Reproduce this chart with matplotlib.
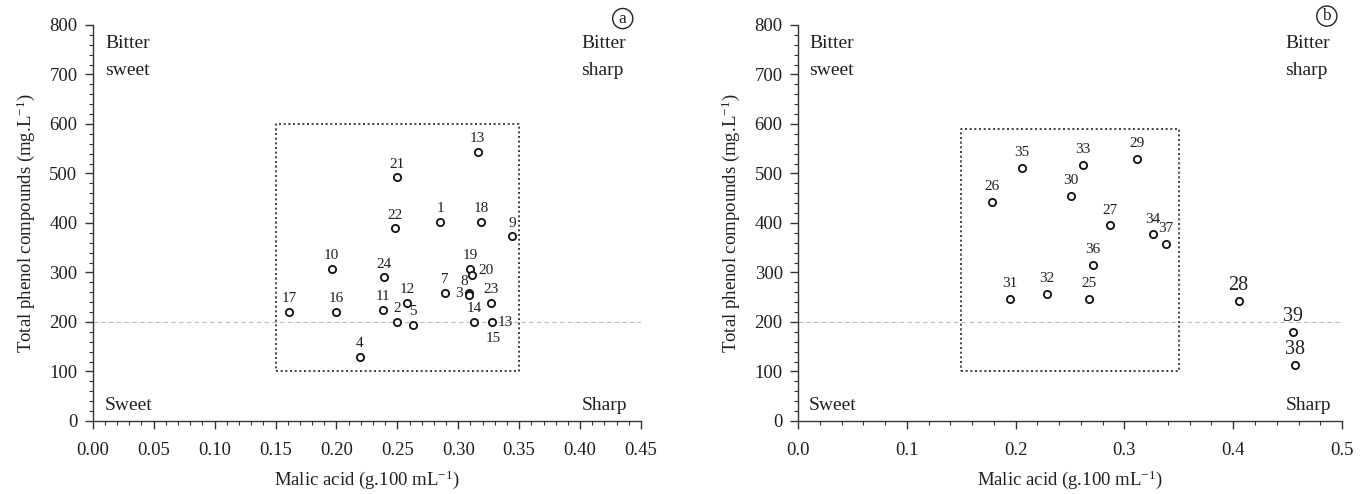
import numpy as np
import matplotlib
matplotlib.use('Agg')
import matplotlib.pyplot as plt
from matplotlib.ticker import MultipleLocator, FormatStrFormatter

# panel (a)
labels_a = ['13', '21', '22', '1', '18', '9', '10', '24', '19', '20', '7', '8', '3',
            '23', '12', '17', '16', '11', '2', '5', '14', '13', '4']
malic_a = [0.316, 0.250, 0.248, 0.285, 0.319, 0.344, 0.196, 0.239, 0.310, 0.311,
           0.289, 0.309, 0.309, 0.327, 0.258, 0.161, 0.200, 0.238, 0.250, 0.263,
           0.313, 0.328, 0.219]
phenol_a = [544, 492, 389, 403, 403, 373, 307, 290, 307, 294, 259, 258, 254,
            238, 238, 221, 221, 225, 200, 194, 200, 200, 129]
box_a = (0.15, 0.35, 100, 600)

# panel (b)
labels_b = ['35', '33', '29', '26', '30', '27', '34', '37', '36', '31', '32', '25',
            '28', '39', '38']
malic_b = [0.206, 0.262, 0.312, 0.178, 0.251, 0.287, 0.326, 0.338, 0.271,
           0.195, 0.229, 0.267, 0.405, 0.455, 0.457]
phenol_b = [512, 517, 529, 443, 454, 395, 377, 358, 315, 247, 256, 247,
            242, 180, 114]
big_b = ['28', '39', '38']
box_b = (0.15, 0.35, 100, 590)

threshold = 200

FONT = 'Liberation Serif'
TXT = '#231f20'
plt.rcParams.update({
    'font.family': FONT,
    'mathtext.fontset': 'custom',
    'mathtext.rm': FONT,
    'mathtext.it': FONT + ':italic',
    'font.size': 13.5,
    'text.color': TXT,
    'axes.labelcolor': TXT,
    'xtick.color': '#333333',
    'ytick.color': '#333333',
    'xtick.labelcolor': TXT,
    'ytick.labelcolor': TXT,
})

fig = plt.figure(figsize=(13.7, 4.94), dpi=100)
ax_a = fig.add_axes([0.0677, 0.1478, 0.4002, 0.8016])
ax_b = fig.add_axes([0.5825, 0.1478, 0.3971, 0.8016])


def style_axes(ax, xmax, xmajor, xminor, fmt):
    ax.set_xlim(0, xmax)
    ax.set_ylim(0, 800)
    for s in ['top', 'right']:
        ax.spines[s].set_visible(False)
    for s in ['left', 'bottom']:
        ax.spines[s].set_color('#333333')
        ax.spines[s].set_linewidth(1.0)
    ax.xaxis.set_major_locator(MultipleLocator(xmajor))
    ax.xaxis.set_minor_locator(MultipleLocator(xminor))
    ax.xaxis.set_major_formatter(FormatStrFormatter(fmt))
    ax.yaxis.set_major_locator(MultipleLocator(100))
    ax.yaxis.set_minor_locator(MultipleLocator(20))
    ax.tick_params(which='major', length=6, width=1.0, labelsize=13.5)
    ax.tick_params(axis='x', which='major', pad=9)
    ax.tick_params(axis='y', which='major', pad=5)
    ax.tick_params(which='minor', length=3, width=0.8)
    ax.set_xlabel('Malic acid (g.100 mL$^{-1}$)', fontsize=13.5, labelpad=7)
    ax.set_ylabel('Total phenol compounds (mg.L$^{-1}$)', fontsize=13.5, labelpad=9)
    ax.axhline(threshold, color='#bbbbbb', lw=0.8, ls=(0, (4, 3)), zorder=1)


def draw_box(ax, box):
    x0, x1, y0, y1 = box
    ax.plot([x0, x1, x1, x0, x0], [y0, y0, y1, y1, y0], color='#222222',
            lw=1.2, ls=(0, (1.2, 1.6)), zorder=2)


def quadrants(ax, xl, xr):
    kw = dict(ha='left', va='baseline', fontsize=14)
    ax.text(xl, 753, 'Bitter', **kw)
    ax.text(xl, 699, 'sweet', **kw)
    ax.text(xr, 753, 'Bitter', **kw)
    ax.text(xr, 699, 'sharp', **kw)
    ax.text(xl, 22, 'Sweet', **kw)
    ax.text(xr, 22, 'Sharp', **kw)


def points(ax, xs, ys):
    ax.plot(xs, ys, 'o', ms=5.2, mfc='white', mec='#111111', mew=1.3,
            ls='none', zorder=3)


style_axes(ax_a, 0.45, 0.05, 0.01, '%.2f')
draw_box(ax_a, box_a)
points(ax_a, malic_a, phenol_a)
quadrants(ax_a, 0.010, 0.401)

special_a = {2: (0, 9), 5: (0, 9), 9: (10.5, 3.5), 11: (-3.5, 8.5), 12: (-7.5, 1),
             21: (9.5, -0.5)}
for i, (lab, xv, yv) in enumerate(zip(labels_a, malic_a, phenol_a)):
    dx, dy = special_a.get(i, (0, 9.5))
    ax_a.annotate(lab, (xv, yv), xytext=(dx, dy), textcoords='offset points',
                  ha='center', va='center', fontsize=11, zorder=4)
# second label on the shared point (13 / 15)
ax_a.annotate('15', (malic_a[21], phenol_a[21]), xytext=(1, -12),
              textcoords='offset points', ha='center', va='center', fontsize=11)

style_axes(ax_b, 0.5, 0.1, 0.02, '%.1f')
draw_box(ax_b, box_b)
points(ax_b, malic_b, phenol_b)
quadrants(ax_b, 0.010, 0.448)
for lab, xv, yv in zip(labels_b, malic_b, phenol_b):
    big = lab in big_b
    ax_b.annotate(lab, (xv, yv), xytext=(0, 11),
                  textcoords='offset points', ha='center', va='center',
                  fontsize=14.5 if big else 11, zorder=4)

# panel tags
for ax, tag, xv, yv in [(ax_a, 'a', 0.435, 813), (ax_b, 'b', 0.486, 818)]:
    ax.text(xv, yv, tag, ha='center', va='center', fontsize=12.5, clip_on=False,
            bbox=dict(boxstyle='circle,pad=0.12', fc='white', ec='#222222', lw=1.0))

fig.savefig('out.png', dpi=100)
